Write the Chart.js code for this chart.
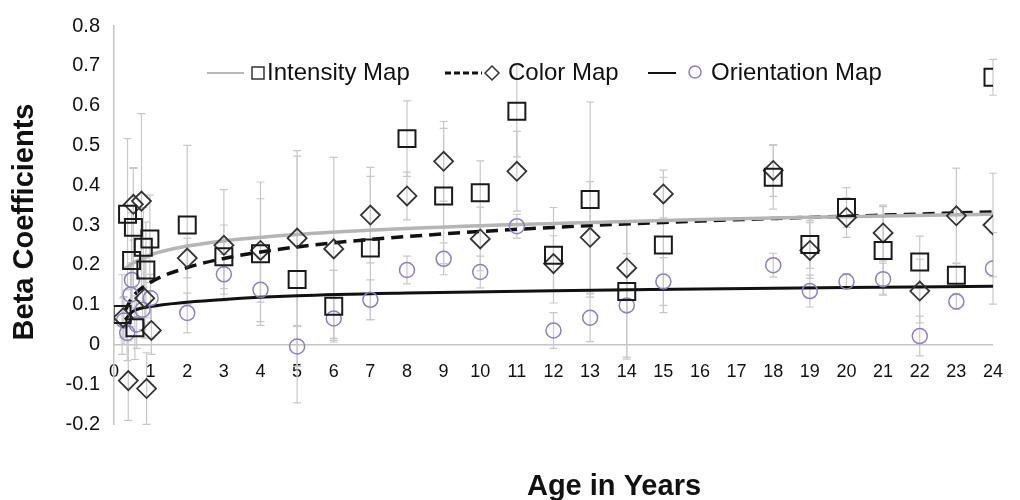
<!DOCTYPE html>
<html>
<head>
<meta charset="utf-8">
<title>Beta Coefficients by Age</title>
<script src="https://cdn.jsdelivr.net/npm/chart.js@4.4.1/dist/chart.umd.min.js"></script>
<style>
  body { margin: 0; background: #fff; }
  canvas { display: block; }
</style>
</head>
<body>
<canvas id="betaChart" width="1020" height="500"></canvas>
<script>
// Intensity map (squares)
const intensityAge = [0.22, 0.37, 0.48, 0.53, 0.57, 0.80, 0.87, 0.98, 2, 3, 4, 5, 6, 7, 8, 9, 10, 11, 12, 13, 14, 15, 18, 19, 20, 21, 22, 23, 24];
const intensityBeta = [0.075, 0.327, 0.211, 0.294, 0.042, 0.244, 0.187, 0.265, 0.300, 0.220, 0.228, 0.163, 0.096, 0.242, 0.517, 0.373, 0.381, 0.586, 0.224, 0.364, 0.133, 0.250, 0.420, 0.251, 0.344, 0.236, 0.207, 0.174, 0.671];
const intensityErr = [0.10, 0.19, 0.12, 0.15, 0.08, 0.10, 0.12, 0.11, 0.20, 0.08, 0.18, 0.31, 0.09, 0.18, 0.095, 0.17, 0.08, 0.115, 0.12, 0.245, 0.17, 0.17, 0.08, 0.06, 0.05, 0.11, 0.065, 0.03, 0.045];

// Color map (diamonds)
const colorAge = [0.25, 0.39, 0.53, 0.75, 0.84, 0.89, 1.02, 2, 3, 4, 5, 6, 7, 8, 9, 10, 11, 12, 13, 14, 15, 18, 19, 20, 21, 22, 23, 24];
const colorBeta = [0.067, -0.091, 0.352, 0.360, 0.116, -0.111, 0.035, 0.217, 0.249, 0.236, 0.267, 0.240, 0.325, 0.373, 0.460, 0.265, 0.435, 0.203, 0.269, 0.192, 0.378, 0.437, 0.236, 0.319, 0.280, 0.134, 0.323, 0.300];
const colorErr = [0.05, 0.10, 0.09, 0.22, 0.10, 0.09, 0.06, 0.05, 0.14, 0.13, 0.22, 0.23, 0.12, 0.06, 0.10, 0.08, 0.10, 0.07, 0.14, 0.11, 0.06, 0.065, 0.07, 0.05, 0.07, 0.08, 0.12, 0.13];

// Orientation map (circles)
const orientAge = [0.27, 0.36, 0.45, 0.49, 0.62, 0.78, 1.0, 2, 3, 4, 5, 6, 7, 8, 9, 10, 11, 12, 13, 14, 15, 18, 19, 20, 21, 22, 23, 24];
const orientBeta = [0.060, 0.029, 0.125, 0.162, 0.050, 0.087, 0.116, 0.079, 0.176, 0.137, -0.005, 0.065, 0.112, 0.187, 0.215, 0.182, 0.297, 0.035, 0.067, 0.098, 0.158, 0.199, 0.134, 0.158, 0.164, 0.021, 0.108, 0.191];
const orientErr = [0.06, 0.07, 0.08, 0.07, 0.06, 0.05, 0.06, 0.05, 0.05, 0.08, 0.05, 0.05, 0.05, 0.035, 0.04, 0.04, 0.03, 0.045, 0.06, 0.13, 0.06, 0.03, 0.04, 0.02, 0.04, 0.05, 0.02, 0.09];

// Trend lines
const trendAge = [0.3, 0.5, 1, 2, 3, 5, 8, 12, 16, 20, 24];
const intensityTrend = [0.190, 0.203, 0.225, 0.247, 0.260, 0.276, 0.291, 0.304, 0.314, 0.321, 0.327];
const colorTrend = [0.085, 0.118, 0.156, 0.193, 0.216, 0.245, 0.271, 0.294, 0.310, 0.322, 0.333];
const orientTrend = [0.062, 0.082, 0.095, 0.106, 0.113, 0.122, 0.129, 0.135, 0.139, 0.143, 0.146];

const FONT = "'Liberation Sans', Arial, Helvetica, sans-serif";
const PURPLE = '#8d7fc0';

function toPoints(xs, ys) {
    return xs.map((x, i) => ({ x: x, y: ys[i] }));
}

// Grey error bars under the markers
const errorBars = {
    id: 'errorBars',
    beforeDatasetsDraw(chart) {
        const { ctx, scales: { x, y } } = chart;
        ctx.save();
        ctx.strokeStyle = '#c8c8c8';
        ctx.lineWidth = 1.2;
        chart.data.datasets.forEach(ds => {
            if (!ds.errors) return;
            ds.data.forEach((p, i) => {
                const px = x.getPixelForValue(p.x);
                const top = y.getPixelForValue(p.y + ds.errors[i]);
                const bot = y.getPixelForValue(p.y - ds.errors[i]);
                ctx.beginPath();
                ctx.moveTo(px, top);
                ctx.lineTo(px, bot);
                ctx.moveTo(px - 4, top);
                ctx.lineTo(px + 4, top);
                ctx.moveTo(px - 4, bot);
                ctx.lineTo(px + 4, bot);
                ctx.stroke();
            });
        });
        ctx.restore();
    }
};

// Legend and axis titles
const decorations = {
    id: 'decorations',
    afterDraw(chart) {
        const ctx = chart.ctx;
        const ly = 73;
        ctx.save();

        // intensity
        ctx.strokeStyle = '#b8b8b8';
        ctx.lineWidth = 2;
        ctx.beginPath();
        ctx.moveTo(207, ly);
        ctx.lineTo(244, ly);
        ctx.stroke();
        ctx.strokeStyle = '#333';
        ctx.lineWidth = 1.5;
        ctx.strokeRect(252, ly - 6, 12, 12);

        // color
        ctx.strokeStyle = '#111';
        ctx.lineWidth = 3;
        ctx.setLineDash([6, 3]);
        ctx.beginPath();
        ctx.moveTo(445, ly);
        ctx.lineTo(482, ly);
        ctx.stroke();
        ctx.setLineDash([]);
        ctx.strokeStyle = '#333';
        ctx.lineWidth = 1.5;
        ctx.beginPath();
        ctx.moveTo(485, ly);
        ctx.lineTo(492, ly - 7);
        ctx.lineTo(499, ly);
        ctx.lineTo(492, ly + 7);
        ctx.closePath();
        ctx.stroke();

        // orientation
        ctx.strokeStyle = '#111';
        ctx.lineWidth = 2;
        ctx.beginPath();
        ctx.moveTo(648, ly);
        ctx.lineTo(676, ly);
        ctx.stroke();
        ctx.strokeStyle = PURPLE;
        ctx.lineWidth = 1.5;
        ctx.beginPath();
        ctx.arc(695, ly - 1, 6, 0, Math.PI * 2);
        ctx.stroke();

        ctx.fillStyle = '#111';
        ctx.font = '24px ' + FONT;
        ctx.textBaseline = 'middle';
        ctx.textAlign = 'left';
        ctx.fillText('Intensity Map', 267, ly);
        ctx.fillText('Color Map', 508, ly);
        ctx.fillText('Orientation Map', 711, ly);

        // axis titles
        ctx.font = 'bold 29px ' + FONT;
        ctx.textAlign = 'center';
        ctx.textBaseline = 'alphabetic';
        ctx.fillText('Age in Years', 614, 495);
        ctx.translate(33, 222);
        ctx.rotate(-Math.PI / 2);
        ctx.fillText('Beta Coefficients', 0, 0);
        ctx.restore();
    }
};

const ctx = document.getElementById('betaChart').getContext('2d');
new Chart(ctx, {
    type: 'scatter',
    data: {
        datasets: [
            {
                label: 'Intensity Map',
                data: toPoints(intensityAge, intensityBeta),
                errors: intensityErr,
                pointStyle: 'rect',
                pointRadius: 12,
                borderColor: '#1a1a1a',
                backgroundColor: 'rgba(0,0,0,0)',
                pointBorderWidth: 2,
                order: 1
            },
            {
                label: 'Color Map',
                data: toPoints(colorAge, colorBeta),
                errors: colorErr,
                pointStyle: 'rectRot',
                pointRadius: 9.5,
                borderColor: '#333',
                backgroundColor: 'rgba(0,0,0,0)',
                pointBorderWidth: 1.8,
                order: 2
            },
            {
                label: 'Orientation Map',
                data: toPoints(orientAge, orientBeta),
                errors: orientErr,
                pointStyle: 'circle',
                pointRadius: 7.5,
                borderColor: PURPLE,
                backgroundColor: 'rgba(0,0,0,0)',
                pointBorderWidth: 1.5,
                order: 3
            },
            {
                type: 'line',
                label: 'Intensity trend',
                data: toPoints(trendAge, intensityTrend),
                borderColor: '#b5b5b5',
                borderWidth: 3.5,
                pointRadius: 0,
                cubicInterpolationMode: 'monotone',
                order: 4
            },
            {
                type: 'line',
                label: 'Color trend',
                data: toPoints(trendAge, colorTrend),
                borderColor: '#111',
                borderWidth: 3.5,
                borderDash: [12, 7],
                pointRadius: 0,
                cubicInterpolationMode: 'monotone',
                order: 4
            },
            {
                type: 'line',
                label: 'Orientation trend',
                data: toPoints(trendAge, orientTrend),
                borderColor: '#111',
                borderWidth: 3,
                pointRadius: 0,
                cubicInterpolationMode: 'monotone',
                order: 4
            }
        ]
    },
    options: {
        responsive: false,
        animation: false,
        layout: {
            padding: { left: 0, top: 21, right: 12, bottom: 76 }
        },
        plugins: {
            legend: { display: false },
            tooltip: { enabled: false }
        },
        scales: {
            x: {
                type: 'linear',
                position: { y: 0 },
                min: 0,
                max: 24,
                grid: { display: false, drawTicks: false },
                border: { color: '#c4c4c4', width: 1.5 },
                ticks: {
                    stepSize: 1,
                    autoSkip: false,
                    maxRotation: 0,
                    padding: 17,
                    color: '#111',
                    font: { family: FONT, size: 18 }
                }
            },
            y: {
                min: -0.2,
                max: 0.8,
                afterFit(scale) {
                    scale.width = 114;
                },
                grid: { display: false, drawTicks: false },
                border: { color: '#c4c4c4', width: 1.5 },
                ticks: {
                    stepSize: 0.1,
                    padding: 14,
                    color: '#111',
                    font: { family: FONT, size: 20 },
                    callback: v => Math.abs(v) < 1e-9 ? '0' : v.toFixed(1)
                }
            }
        }
    },
    plugins: [errorBars, decorations]
});
</script>
</body>
</html>
